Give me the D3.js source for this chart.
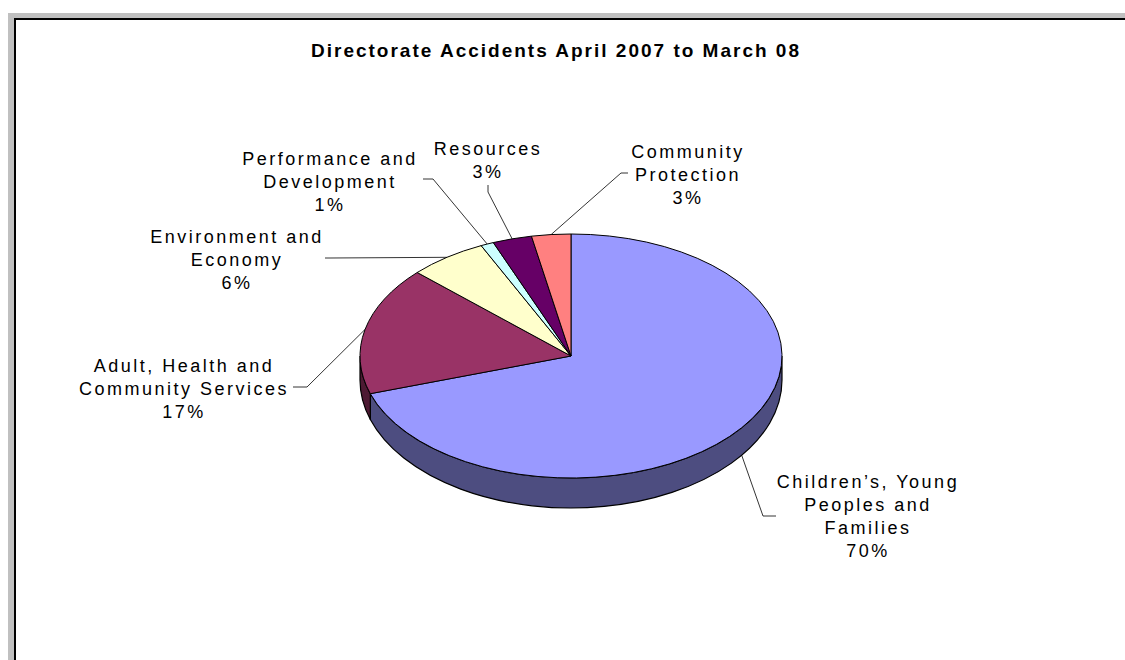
<!DOCTYPE html>
<html>
<head>
<meta charset="utf-8">
<script src="https://cdn.jsdelivr.net/npm/d3@7"></script>
<style>
  body { margin: 0; background: #fff; }
  text { font-family: "Liberation Sans", Arial, sans-serif; fill: #000; }
</style>
</head>
<body>
<div id="chart"></div>
<script>
const width = 1125
const height = 660

// data
const categories = [
  "Children\u2019s, Young Peoples and Families",
  "Adult, Health and Community Services",
  "Environment and Economy",
  "Performance and Development",
  "Resources",
  "Community Protection"
]
const values = [70, 17, 6, 1, 3, 3]
const colors = ["#9999ff", "#993366", "#ffffcc", "#ccffff", "#660066", "#ff8080"]
const labelLines = [
  ["Children\u2019s, Young", "Peoples and", "Families"],
  ["Adult, Health and", "Community Services"],
  ["Environment and", "Economy"],
  ["Performance and", "Development"],
  ["Resources"],
  ["Community", "Protection"]
]

// label layout: text centre, first baseline, leader start + elbow
const labelLayout = [
  { x: 868, y: 488, path: [[776, 516], [763, 516]] },
  { x: 184, y: 372, path: [[293, 387], [307, 387]] },
  { x: 237, y: 243, path: [[325, 258], [330, 258]] },
  { x: 330, y: 165, path: [[423, 179], [433, 179]] },
  { x: 488, y: 155, path: [[488, 185], [488, 192]] },
  { x: 688, y: 158, path: [[628, 173], [621, 173]] }
]

const cx = 571, cy = 356
const rx = 211, ry = 122
const depth = 24, ryBottom = 128
const lineHeight = 23

const svg = d3.select("#chart").append("svg")
  .attr("width", width)
  .attr("height", height)

// window frame
svg.append("rect").attr("x", 8).attr("y", 13).attr("width", width - 8).attr("height", 6).attr("fill", "#c0c0c0")
svg.append("rect").attr("x", 8).attr("y", 13).attr("width", 6).attr("height", height - 13).attr("fill", "#c0c0c0")
svg.append("rect").attr("x", 14).attr("y", 18).attr("width", width - 14).attr("height", 2).attr("fill", "#000")
svg.append("rect").attr("x", 14).attr("y", 18).attr("width", 2).attr("height", height - 18).attr("fill", "#000")

svg.append("text")
  .attr("x", 556)
  .attr("y", 57)
  .attr("text-anchor", "middle")
  .style("font-size", "19px")
  .style("font-weight", "bold")
  .style("letter-spacing", "2px")
  .text("Directorate Accidents April 2007 to March 08")

const pie = d3.pie().sort(null).value(d => d)
const arcs = pie(values)
const total = d3.sum(values)
const pct = d3.format(".0%")

const topPt = a => [cx + rx * Math.sin(a), cy - ry * Math.cos(a)]
const botPt = a => [cx + rx * Math.sin(a), cy + depth - ryBottom * Math.cos(a)]

function shade(c) {
  const r = d3.rgb(c)
  return d3.rgb(r.r * 0.5, r.g * 0.5, r.b * 0.5)
}

// side walls (front half only)
const sides = svg.append("g")
arcs.forEach((d, i) => {
  const s = Math.max(d.startAngle, Math.PI / 2)
  const e = Math.min(d.endAngle, Math.PI * 1.5)
  if (e <= s) return
  const large = (e - s) > Math.PI ? 1 : 0
  const p0 = topPt(s), p1 = topPt(e), b1 = botPt(e), b0 = botPt(s)
  const path = `M${p0}A${rx},${ry} 0 ${large} 1 ${p1}L${b1}A${rx},${ryBottom} 0 ${large} 0 ${b0}Z`
  sides.append("path")
    .attr("d", path)
    .attr("fill", shade(colors[i]))
    .attr("stroke", "#000")
    .attr("stroke-width", 1.2)
})

// top faces
const faces = svg.append("g")
arcs.forEach((d, i) => {
  const large = (d.endAngle - d.startAngle) > Math.PI ? 1 : 0
  const p0 = topPt(d.startAngle), p1 = topPt(d.endAngle)
  faces.append("path")
    .attr("d", `M${cx},${cy}L${p0}A${rx},${ry} 0 ${large} 1 ${p1}Z`)
    .attr("fill", colors[i])
    .attr("stroke", "#000")
    .attr("stroke-width", 1)
    .attr("stroke-linejoin", "round")
})

// leader lines
const line = d3.line()
arcs.forEach((d, i) => {
  const mid = (d.startAngle + d.endAngle) / 2
  const front = Math.cos(mid) < 0
  const end = front ? botPt(mid) : topPt(mid)
  svg.append("path")
    .attr("d", line(labelLayout[i].path.concat([end])))
    .attr("fill", "none")
    .attr("stroke", "#000")
    .attr("stroke-width", 0.8)
})

// labels
arcs.forEach((d, i) => {
  const L = labelLayout[i]
  const lines = labelLines[i].concat([pct(d.value / total)])
  const t = svg.append("text")
    .attr("text-anchor", "middle")
    .style("font-size", "18px")
    .style("letter-spacing", "2.5px")
  lines.forEach((s, k) => {
    t.append("tspan")
      .attr("x", L.x)
      .attr("y", L.y + k * lineHeight)
      .text(s)
  })
})
</script>
</body>
</html>
